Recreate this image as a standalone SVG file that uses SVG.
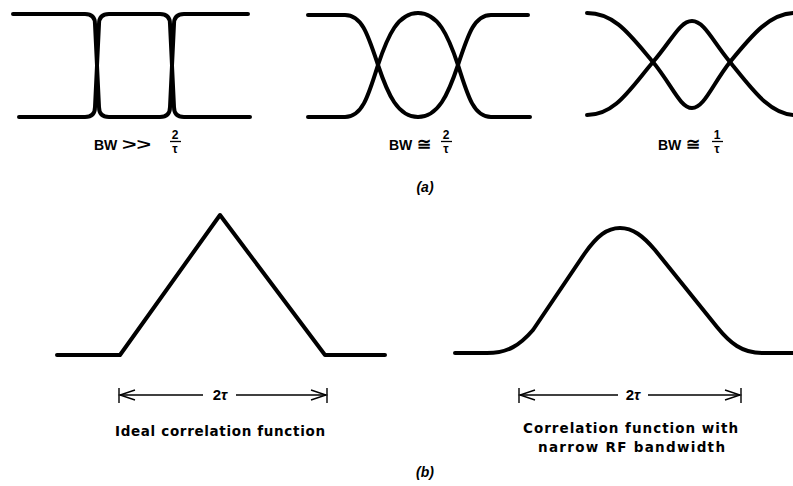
<svg xmlns="http://www.w3.org/2000/svg" width="793" height="486" viewBox="0 0 793 486">
<defs>
<style>
.c{fill:none;stroke:#000;stroke-width:4;stroke-linecap:round;stroke-linejoin:round}
.d{fill:none;stroke:#000;stroke-width:1.4}
.bar{stroke:#000;stroke-width:1.3}
.t{font-family:"Liberation Sans",Arial,sans-serif;font-weight:bold;fill:#000}
.lbl{font-family:"DejaVu Sans","Liberation Sans",sans-serif;font-weight:bold;font-size:13.5px;fill:#000}
.bw{font-size:14px}
.op{font-size:17px}
.fr{font-size:12px}
.cap{font-size:14px;font-style:italic}
.tau{font-size:15px}
</style>
</defs>
<rect width="793" height="486" fill="#fff"/>
<g id="eye1">
<path class="c" d="M13,14 H85 Q95,14 95,24 L99,107 Q99,117 109,117 H160 Q170,117 170,107 L174,24 Q174,14 184,14 H248"/>
<path class="c" d="M19,117 H85 Q95,117 95,107 L99,24 Q99,14 109,14 H160 Q170,14 170,24 L174,107 Q174,117 184,117 H250"/>
<text class="t bw" x="94" y="150">BW</text>
<text class="t" font-size="16" transform="translate(122,150) scale(1.55,1)">&gt;&gt;</text>
<text class="t fr" x="175" y="139" text-anchor="middle">2</text>
<line class="bar" x1="170" y1="141.5" x2="181" y2="141.5"/>
<text class="t fr" x="175" y="153" text-anchor="middle">τ</text>
</g>
<g id="eye2">
<path class="c" d="M308,15 H345 C362,15 368,35 378,65 C388,95 398,117 418,117 C438,117 448,95 458,65 C468,35 474,15 491,15 H528"/>
<path class="c" d="M308,117 H345 C362,117 368,97 378,65 C388,35 398,13 418,13 C438,13 448,35 458,65 C468,97 474,117 491,117 H530"/>
<text class="t bw" x="389" y="150">BW</text>
<text class="t op" x="417" y="150">≅</text>
<text class="t fr" x="446" y="139" text-anchor="middle">2</text>
<line class="bar" x1="441" y1="141.5" x2="452" y2="141.5"/>
<text class="t fr" x="446" y="153" text-anchor="middle">τ</text>
</g>
<g id="eye3">
<path class="c" d="M587,13 C615,13 630,35 653,62 C672,85 680,108 692,108 C704,108 712,85 730,62 C752,35 770,13 795,13"/>
<path class="c" d="M587,115 C615,115 630,89 653,62 C672,40 680,21 692,21 C704,21 712,40 730,62 C752,89 770,115 795,115"/>
<text class="t bw" x="658" y="150">BW</text>
<text class="t op" x="686" y="150">≅</text>
<text class="t fr" x="717" y="139" text-anchor="middle">1</text>
<line class="bar" x1="712" y1="141.5" x2="723" y2="141.5"/>
<text class="t fr" x="717" y="153" text-anchor="middle">τ</text>
</g>
<text id="cap-a" class="t cap" x="425" y="192" text-anchor="middle">(a)</text>
<g id="ideal">
<path class="c" d="M57,355 H120 L220,215 L325,355 H385" stroke-linejoin="miter"/>
<g id="dim-ideal">
<line class="d" x1="119" y1="388" x2="119" y2="403"/>
<line class="d" x1="327" y1="388" x2="327" y2="403"/>
<line class="d" x1="120" y1="395" x2="203" y2="395"/>
<line class="d" x1="236" y1="395" x2="326" y2="395"/>
<polyline class="d" points="135,390 120,395 135,400"/>
<polyline class="d" points="311,390 326,395 311,400"/>
</g>
<text class="t tau" x="220" y="400" text-anchor="middle">2<tspan font-style="italic">τ</tspan></text>
<text class="lbl" x="115" y="436" textLength="210" lengthAdjust="spacing">Ideal correlation function</text>
</g>
<g id="narrow">
<path class="c" d="M455,353 H487 C508,353 520,345 533,330 L585,253 C597,236 607,228 620,228 C633,228 643,236 655,250 L717,327 C730,343 742,353 762,353 H795"/>
<g id="dim-narrow">
<line class="d" x1="519" y1="388" x2="519" y2="403"/>
<line class="d" x1="741" y1="388" x2="741" y2="403"/>
<line class="d" x1="520" y1="395" x2="618" y2="395"/>
<line class="d" x1="648" y1="395" x2="740" y2="395"/>
<polyline class="d" points="535,390 520,395 535,400"/>
<polyline class="d" points="725,390 740,395 725,400"/>
</g>
<text class="t tau" x="633" y="400" text-anchor="middle">2<tspan font-style="italic">τ</tspan></text>
<text class="lbl" x="523" y="433" textLength="215" lengthAdjust="spacing">Correlation function with</text>
<text class="lbl" x="538" y="452" textLength="187" lengthAdjust="spacing">narrow RF bandwidth</text>
</g>
<text id="cap-b" class="t cap" x="425" y="477" text-anchor="middle">(b)</text>
</svg>
